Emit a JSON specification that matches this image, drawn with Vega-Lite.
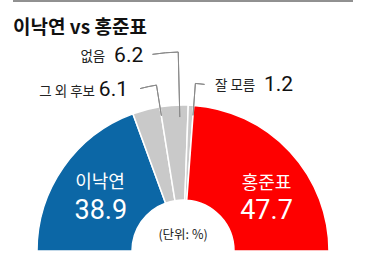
{
  "$schema": "https://vega.github.io/schema/vega-lite/v6.json",
  "width": 340,
  "height": 250,
  "autosize": {"type": "none"},
  "padding": {"top": 1, "left": 13, "right": 13, "bottom": 22},
  "background": "white",
  "title": {
    "text": "이낙연 vs 홍준표",
    "anchor": "start",
    "frame": "group",
    "offset": -52,
    "baseline": "alphabetic",
    "font": "Noto Sans CJK KR",
    "fontSize": 19,
    "fontWeight": "bold",
    "color": "#111111"
  },
  "config": {"view": {"stroke": null}},
  "data": {
    "values": [
      {"name": "이낙연", "value": 38.9},
      {"name": "그 외 후보", "value": 6.1},
      {"name": "없음", "value": 6.2},
      {"name": "잘 모름", "value": 1.2},
      {"name": "홍준표", "value": 47.7}
    ]
  },
  "transform": [{"stack": "value", "groupby": [], "as": ["start", "end"]}],
  "layer": [
    {
      "data": {"values": [{"line": "top"}]},
      "mark": {"type": "rule", "color": "#222222", "strokeWidth": 1},
      "encoding": {
        "y": {"datum": 1, "type": "quantitative", "scale": {"domain": [0, 1]}, "axis": null}
      }
    },
    {
      "mark": {"type": "arc", "y": "height", "radius": 146, "radius2": 51, "stroke": "white", "strokeWidth": 1.5},
      "encoding": {
        "theta": {"field": "start", "type": "quantitative", "scale": {"domain": [0, 100.1], "range": [-1.5707963, 1.5707963]}},
        "theta2": {"field": "end"},
        "color": {
          "field": "name",
          "type": "nominal",
          "scale": {
            "domain": ["이낙연", "그 외 후보", "없음", "잘 모름", "홍준표"],
            "range": ["#0c67a6", "#c9c9c9", "#c9c9c9", "#c9c9c9", "#fe0000"]
          },
          "legend": null
        }
      }
    },
    {
      "transform": [{"filter": "datum.name === '그 외 후보'"}],
      "mark": {"type": "arc", "y": "height", "radius": 168, "radius2": 137, "stroke": "#8a8a8a", "strokeWidth": 1, "fillOpacity": 0},
      "encoding": {"theta": {"field": "end", "type": "quantitative"}, "theta2": {"field": "end"}}
    },
    {
      "transform": [{"filter": "datum.name === '그 외 후보'"}],
      "mark": {"type": "arc", "y": "height", "radius": 168, "radius2": 168, "theta2Offset": -0.1, "stroke": "#8a8a8a", "strokeWidth": 1, "fillOpacity": 0},
      "encoding": {"theta": {"field": "end", "type": "quantitative"}, "theta2": {"field": "end"}}
    },
    {
      "transform": [{"filter": "datum.name === '없음'"}],
      "mark": {"type": "arc", "y": "height", "radius": 199, "radius2": 134, "thetaOffset": -0.06, "theta2Offset": -0.06, "stroke": "#8a8a8a", "strokeWidth": 1, "fillOpacity": 0},
      "encoding": {"theta": {"field": "end", "type": "quantitative"}, "theta2": {"field": "end"}}
    },
    {
      "transform": [{"filter": "datum.name === '없음'"}],
      "mark": {"type": "arc", "y": "height", "radius": 199, "radius2": 199, "thetaOffset": -0.06, "theta2Offset": -0.19, "stroke": "#8a8a8a", "strokeWidth": 1, "fillOpacity": 0},
      "encoding": {"theta": {"field": "end", "type": "quantitative"}, "theta2": {"field": "end"}}
    },
    {
      "transform": [{"filter": "datum.name === '잘 모름'"}],
      "mark": {"type": "arc", "y": "height", "radius": 168, "radius2": 136, "stroke": "#8a8a8a", "strokeWidth": 1, "fillOpacity": 0},
      "encoding": {"theta": {"field": "end", "type": "quantitative"}, "theta2": {"field": "end"}}
    },
    {
      "transform": [{"filter": "datum.name === '잘 모름'"}],
      "mark": {"type": "arc", "y": "height", "radius": 168, "radius2": 168, "theta2Offset": 0.055, "stroke": "#8a8a8a", "strokeWidth": 1, "fillOpacity": 0},
      "encoding": {"theta": {"field": "end", "type": "quantitative"}, "theta2": {"field": "end"}}
    },
    {
      "transform": [{"filter": "datum.name === '그 외 후보'"}],
      "mark": {"type": "text", "y": "height", "radius": 168, "align": "right", "baseline": "alphabetic", "dx": -61.5, "dy": 10.5, "font": "Noto Sans CJK KR", "fontSize": 13.5, "color": "#222222"},
      "encoding": {"theta": {"field": "end", "type": "quantitative"}, "text": {"field": "name"}}
    },
    {
      "transform": [{"filter": "datum.name === '그 외 후보'"}],
      "mark": {"type": "text", "y": "height", "radius": 168, "align": "right", "baseline": "alphabetic", "dx": -28.5, "dy": 11, "font": "Roboto", "fontSize": 21, "color": "#111111"},
      "encoding": {"theta": {"field": "end", "type": "quantitative"}, "text": {"field": "value", "type": "quantitative", "format": ".1f"}}
    },
    {
      "transform": [{"filter": "datum.name === '없음'"}],
      "mark": {"type": "text", "y": "height", "radius": 199, "thetaOffset": -0.06, "align": "right", "baseline": "alphabetic", "dx": -73, "dy": 9, "font": "Noto Sans CJK KR", "fontSize": 13.5, "color": "#222222"},
      "encoding": {"theta": {"field": "end", "type": "quantitative"}, "text": {"field": "name"}}
    },
    {
      "transform": [{"filter": "datum.name === '없음'"}],
      "mark": {"type": "text", "y": "height", "radius": 199, "thetaOffset": -0.06, "align": "right", "baseline": "alphabetic", "dx": -35, "dy": 10, "font": "Roboto", "fontSize": 21, "color": "#111111"},
      "encoding": {"theta": {"field": "end", "type": "quantitative"}, "text": {"field": "value", "type": "quantitative", "format": ".1f"}}
    },
    {
      "transform": [{"filter": "datum.name === '잘 모름'"}],
      "mark": {"type": "text", "y": "height", "radius": 168, "align": "left", "baseline": "alphabetic", "dx": 19.6, "dy": 7, "font": "Noto Sans CJK KR", "fontSize": 13.5, "color": "#222222"},
      "encoding": {"theta": {"field": "end", "type": "quantitative"}, "text": {"field": "name"}}
    },
    {
      "transform": [{"filter": "datum.name === '잘 모름'"}],
      "mark": {"type": "text", "y": "height", "radius": 168, "align": "left", "baseline": "alphabetic", "dx": 68.6, "dy": 7.5, "font": "Roboto", "fontSize": 21, "color": "#111111"},
      "encoding": {"theta": {"field": "end", "type": "quantitative"}, "text": {"field": "value", "type": "quantitative", "format": ".1f"}}
    },
    {
      "mark": {"type": "text", "y": "height", "radius": 104, "align": "center", "baseline": "middle", "dx": 2.2, "dy": -8, "font": "Noto Sans CJK KR", "fontSize": 18, "color": "white"},
      "encoding": {
        "theta": {"field": "value", "type": "quantitative", "stack": true},
        "order": {"field": "start", "type": "quantitative"},
        "detail": {"field": "name"},
        "text": {"condition": {"test": "datum.name === '이낙연'", "field": "name", "type": "nominal"}, "value": ""}
      }
    },
    {
      "mark": {"type": "text", "y": "height", "radius": 104, "align": "center", "baseline": "middle", "dx": 3, "dy": 19.6, "font": "Roboto", "fontSize": 27, "color": "white"},
      "encoding": {
        "theta": {"field": "value", "type": "quantitative", "stack": true},
        "order": {"field": "start", "type": "quantitative"},
        "detail": {"field": "name"},
        "text": {"condition": {"test": "datum.name === '이낙연'", "field": "value", "type": "quantitative", "format": ".1f"}, "value": ""}
      }
    },
    {
      "mark": {"type": "text", "y": "height", "radius": 104, "align": "center", "baseline": "middle", "dx": 7.3, "dy": 3.3, "font": "Noto Sans CJK KR", "fontSize": 18, "color": "white"},
      "encoding": {
        "theta": {"field": "value", "type": "quantitative", "stack": true},
        "order": {"field": "start", "type": "quantitative"},
        "detail": {"field": "name"},
        "text": {"condition": {"test": "datum.name === '홍준표'", "field": "name", "type": "nominal"}, "value": ""}
      }
    },
    {
      "mark": {"type": "text", "y": "height", "radius": 104, "align": "center", "baseline": "middle", "dx": 7.3, "dy": 30.8, "font": "Roboto", "fontSize": 27, "color": "white"},
      "encoding": {
        "theta": {"field": "value", "type": "quantitative", "stack": true},
        "order": {"field": "start", "type": "quantitative"},
        "detail": {"field": "name"},
        "text": {"condition": {"test": "datum.name === '홍준표'", "field": "value", "type": "quantitative", "format": ".1f"}, "value": ""}
      }
    },
    {
      "data": {"values": [{"unit": "(단위: %)"}]},
      "mark": {"type": "text", "y": "height", "align": "center", "baseline": "middle", "dy": -16, "font": "Noto Sans CJK KR", "fontSize": 12.5, "color": "#222222"},
      "encoding": {"text": {"field": "unit"}}
    }
  ]
}
